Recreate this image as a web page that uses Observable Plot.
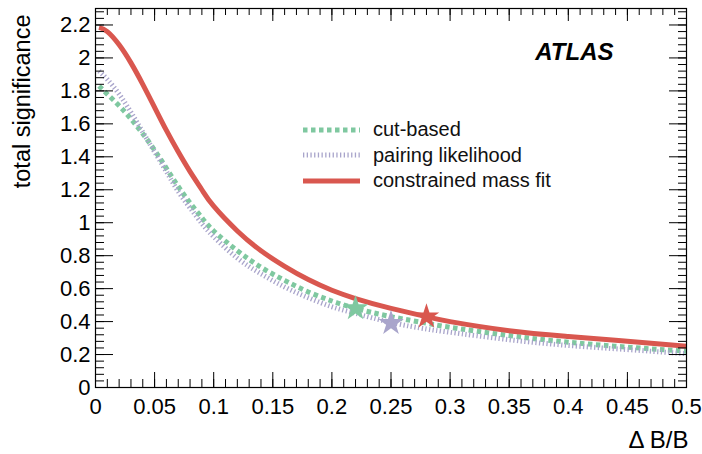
<!DOCTYPE html>
<html><head><meta charset="utf-8">
<script src="https://cdn.jsdelivr.net/npm/d3@7"></script>
<script src="https://cdn.jsdelivr.net/npm/@observablehq/plot@0.6"></script>
<style>
body{margin:0;background:#fff;}
#wrap{position:relative;width:702px;height:454px;font-family:"Liberation Sans",Arial,sans-serif;}
#legend{position:absolute;left:303px;top:117px;font-size:20px;color:#111;}
#legend .row{display:flex;align-items:center;height:25.5px;}
#legend svg{margin-right:13px;}
</style></head><body><div id="wrap"></div>
<script>
// ---- data ----
const deltaB = [0.003,0.01,0.02,0.03,0.04,0.05,0.06,0.07,0.08,0.09,0.10,0.12,0.14,0.16,0.18,0.20,0.22,0.25,0.28,0.30,0.35,0.40,0.45,0.50];
const cutBased = [1.83,1.78,1.71,1.63,1.54,1.44,1.33,1.22,1.12,1.03,0.95,0.83,0.73,0.65,0.58,0.525,0.48,0.43,0.39,0.365,0.315,0.275,0.245,0.22];
const pairingLikelihood = [1.92,1.87,1.78,1.67,1.55,1.43,1.31,1.19,1.09,0.995,0.915,0.785,0.69,0.61,0.545,0.49,0.45,0.395,0.355,0.335,0.29,0.255,0.23,0.205];
const constrainedMassFit = [2.185,2.16,2.08,1.97,1.84,1.70,1.56,1.43,1.31,1.20,1.10,0.95,0.83,0.735,0.655,0.59,0.54,0.48,0.43,0.40,0.345,0.31,0.28,0.25];
const seriesNames = ["cut-based","pairing likelihood","constrained mass fit"];
const starX = [0.22, 0.25, 0.28];
const starY = [0.48, 0.39, 0.43];
const xTickLabels = [0,0.05,0.1,0.15,0.2,0.25,0.3,0.35,0.4,0.45,0.5];
const yTickLabels = [0,0.2,0.4,0.6,0.8,1,1.2,1.4,1.6,1.8,2,2.2];
const xMinor = d3.range(0, 0.5001, 0.01);
const yMinor = d3.range(0, 2.3001, 0.04);

// ---- styles ----
const colors = {"cut-based":"#7fc8a0","pairing likelihood":"#a9a5cb","constrained mass fit":"#d9574f"};
const W = 702, H = 454, mL = 95, mR = 16, mT = 8, mB = 67;
const innerW = W - mL - mR, innerH = H - mT - mB;

const lines = [];
const valuesBySeries = [cutBased, pairingLikelihood, constrainedMassFit];
seriesNames.forEach((s, k) => deltaB.forEach((x, i) => lines.push({series: s, x, y: valuesBySeries[k][i]})));
const stars = seriesNames.map((s, i) => ({series: s, x: starX[i], y: starY[i]}));
const fmt = d => String(+d.toFixed(2));

const lineStyle = {
  "cut-based": {strokeWidth: 5, strokeDasharray: "4.5,3.5"},
  "pairing likelihood": {strokeWidth: 5, strokeDasharray: "1.3,2.4"},
  "constrained mass fit": {strokeWidth: 5}
};

const chart = Plot.plot({
  width: W, height: H,
  marginLeft: mL, marginRight: mR, marginTop: mT, marginBottom: mB,
  style: {fontFamily: "Liberation Sans, Arial, sans-serif", fontSize: "22px", color: "#000", background: "#fff"},
  x: {domain: [0, 0.5]},
  y: {domain: [0, 2.3]},
  marks: [
    // curves
    ...seriesNames.map(s => Plot.line(lines.filter(d => d.series === s), {
      x: "x", y: "y", stroke: colors[s], curve: "natural", strokeLinecap: "butt", strokeLinejoin: "round", ...lineStyle[s]
    })),
    Plot.dot(stars, {x: "x", y: "y", symbol: "star", r: 8, fill: d => colors[d.series], stroke: "none"}),
    // frame and inward ticks
    Plot.frame({stroke: "#000", strokeWidth: 1.2}),
    Plot.tickX(xTickLabels, {x: d => d, insetTop: innerH - 15, stroke: "#000"}),
    Plot.tickX(xMinor, {x: d => d, insetTop: innerH - 8, stroke: "#000"}),
    Plot.tickX(xTickLabels, {x: d => d, insetBottom: innerH - 13, stroke: "#000"}),
    Plot.tickX(xMinor, {x: d => d, insetBottom: innerH - 7, stroke: "#000"}),
    Plot.tickY(yTickLabels, {y: d => d, insetRight: innerW - 18, stroke: "#000"}),
    Plot.tickY(yMinor, {y: d => d, insetRight: innerW - 9, stroke: "#000"}),
    Plot.tickY(yTickLabels, {y: d => d, insetLeft: innerW - 17, stroke: "#000"}),
    Plot.tickY(yMinor, {y: d => d, insetLeft: innerW - 8, stroke: "#000"}),
    // tick labels
    Plot.axisX({ticks: xTickLabels, tickSize: 0, tickPadding: 11, tickFormat: fmt, label: null, fontSize: 22}),
    Plot.axisY({ticks: yTickLabels, tickSize: 0, tickPadding: 5, tickFormat: fmt, label: null, fontSize: 22}),
    // titles
    Plot.text(["total significance"], {frameAnchor: "top-left", dx: -73, dy: 6, rotate: -90, textAnchor: "end", lineAnchor: "middle", fontSize: 23.5}),
    Plot.text(["\u0394 B/B"], {frameAnchor: "bottom-right", dx: 2, dy: 53, textAnchor: "end", lineAnchor: "middle", fontSize: 24}),
    Plot.text(["ATLAS"], {frameAnchor: "top-right", dx: -73, dy: 44, textAnchor: "end", lineAnchor: "middle", fontSize: 24, fontWeight: "bold", fontStyle: "italic"})
  ]
});

const wrap = document.getElementById("wrap");
wrap.appendChild(chart);

// legend overlay
const legend = document.createElement("div");
legend.id = "legend";
seriesNames.forEach(s => {
  const row = document.createElement("div");
  row.className = "row";
  const st = lineStyle[s];
  row.innerHTML = `<svg width="57" height="10"><line x1="0" y1="5" x2="57" y2="5" stroke="${colors[s]}" stroke-width="${st.strokeWidth}" ${st.strokeDasharray ? `stroke-dasharray="${st.strokeDasharray}"` : ""}/></svg><span>${s}</span>`;
  legend.appendChild(row);
});
wrap.appendChild(legend);
</script>
</body></html>
